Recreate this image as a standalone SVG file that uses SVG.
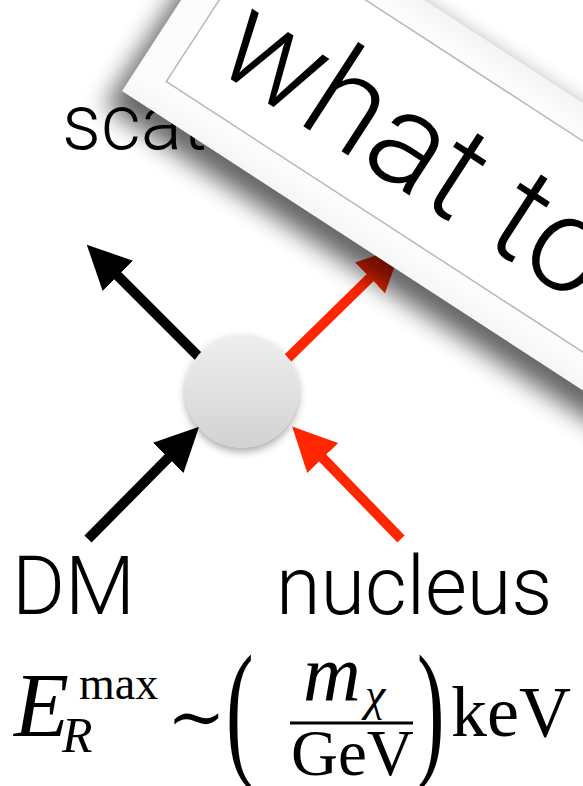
<svg xmlns="http://www.w3.org/2000/svg" width="583" height="786" viewBox="0 0 583 786">
  <style>
    .lbl { font-family: Roboto, "Liberation Sans", Arial, sans-serif; font-weight: 300; fill: #000; }
    .tex { font-family: "Liberation Serif", "DejaVu Serif", serif; fill: #000; }
    .it { font-style: italic; }
    .blk { stroke: #000; stroke-width: 10; fill: none; }
    .red { stroke: #ff2600; stroke-width: 10; fill: none; }
  </style>
  <defs>
    <marker id="hb" viewBox="0 0 44 43" refX="14" refY="21.5" markerWidth="44" markerHeight="43" markerUnits="userSpaceOnUse" orient="auto">
      <path d="M0,0 L44,21.5 L0,43 z" fill="#000"/>
    </marker>
    <marker id="hr" viewBox="0 0 44 43" refX="14" refY="21.5" markerWidth="44" markerHeight="43" markerUnits="userSpaceOnUse" orient="auto">
      <path d="M0,0 L44,21.5 L0,43 z" fill="#ff2600"/>
    </marker>
    <linearGradient id="ballg" x1="0" y1="0" x2="0" y2="1">
      <stop offset="0" stop-color="#efefef"/>
      <stop offset="1" stop-color="#d2d2d2"/>
    </linearGradient>
    <linearGradient id="frameg" x1="0" y1="0" x2="0" y2="1">
      <stop offset="0" stop-color="#f4f4f4"/>
      <stop offset="0.1" stop-color="#fcfcfc"/>
      <stop offset="0.9" stop-color="#fcfcfc"/>
      <stop offset="1" stop-color="#f6f6f6"/>
    </linearGradient>
    <filter id="ballsh" x="-30%" y="-30%" width="160%" height="170%">
      <feGaussianBlur in="SourceAlpha" stdDeviation="4"/>
      <feOffset dy="4" result="b"/>
      <feComponentTransfer><feFuncA type="linear" slope="0.35"/></feComponentTransfer>
      <feMerge><feMergeNode/><feMergeNode in="SourceGraphic"/></feMerge>
    </filter>
    <filter id="signsh" x="-20%" y="-40%" width="140%" height="180%">
      <feGaussianBlur stdDeviation="12"/>
    </filter>
  </defs>

  <g id="connectors">
    <line class="blk" x1="200" y1="358" x2="108" y2="266" marker-end="url(#hb)"/>
    <line class="red" x1="288" y1="358" x2="380" y2="268" marker-end="url(#hr)"/>
    <line class="blk" x1="88" y1="539" x2="178" y2="448" marker-end="url(#hb)"/>
    <line class="red" x1="401" y1="539" x2="313" y2="448" marker-end="url(#hr)"/>
  </g>

  <g id="interaction">
    <circle cx="242" cy="391" r="56.5" fill="url(#ballg)" filter="url(#ballsh)"/>
  </g>

  <g id="label-scat">
    <text class="lbl" x="62" y="149" font-size="77">scat</text>
  </g>
  <g id="label-dm">
    <text class="lbl" x="12" y="614" font-size="81">DM</text>
  </g>
  <g id="label-nucleus">
    <text class="lbl" x="276" y="614" font-size="81">nucleus</text>
  </g>

  <g id="formula" class="tex">
    <text class="tex it" x="14" y="736" font-size="90">E</text>
    <text class="tex" x="79" y="699" font-size="46">max</text>
    <text class="tex it" x="62" y="752" font-size="50">R</text>
    <text class="tex" x="167" y="741" font-size="70">∼</text>
    <text class="tex" transform="translate(226,759) scale(0.55,1)" font-size="150">(</text>
    <text class="tex it" x="303" y="700" font-size="80">m</text>
    <text class="tex it" x="365" y="710" font-size="46">χ</text>
    <line x1="290" y1="723" x2="413" y2="723" stroke="#000" stroke-width="3"/>
    <text class="tex" x="291" y="775" font-size="65">GeV</text>
    <text class="tex" transform="translate(417,759) scale(0.55,1)" font-size="150">)</text>
    <text class="tex" x="451" y="736" font-size="72">keV</text>
  </g>

  <g id="sign" transform="translate(122,91) rotate(33)">
    <rect x="-6" y="-232" width="900" height="254" fill="#000" opacity="0.6" filter="url(#signsh)"/>
    <rect x="0" y="-241" width="900" height="241" fill="url(#frameg)"/>
    <rect x="32" y="-209" width="836" height="177" fill="#fff" stroke="#b8b8b8" stroke-width="1.5"/>
    <text class="lbl" x="60" y="-69" font-size="134">what to</text>
  </g>
</svg>
